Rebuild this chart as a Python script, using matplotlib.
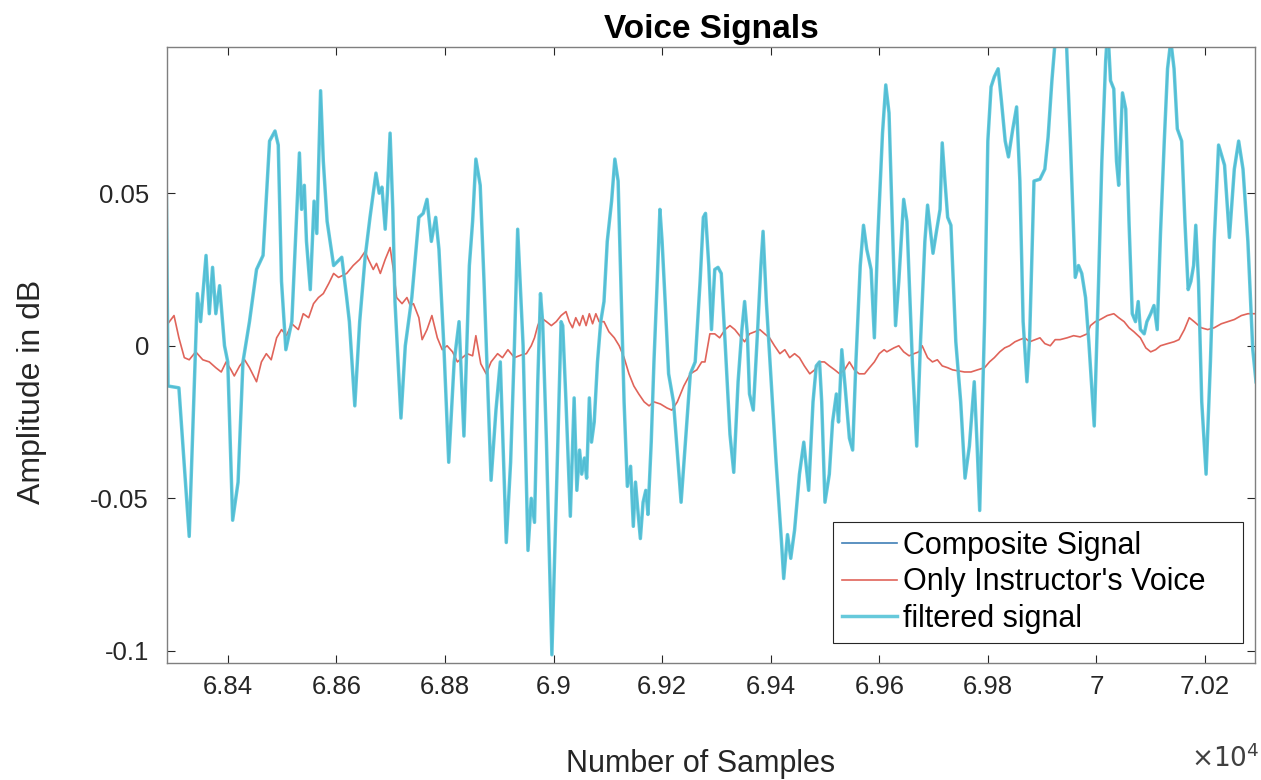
import matplotlib
matplotlib.use("Agg")
import matplotlib.pyplot as plt
from matplotlib.ticker import FuncFormatter

plt.rcParams["font.family"] = ["Liberation Sans", "DejaVu Sans"]
plt.rcParams["axes.unicode_minus"] = False

# filtered signal (composite lies right underneath it)
samples = [68287, 68290, 68310, 68329, 68344, 68350, 68360, 68366, 68372, 68378,
           68385, 68394, 68400, 68409, 68419, 68428, 68440, 68453, 68465, 68477,
           68487, 68493, 68499, 68507, 68518, 68532, 68536, 68541, 68545, 68552,
           68559, 68564, 68571, 68576, 68583, 68595, 68610, 68619, 68624, 68634,
           68643, 68653, 68662, 68673, 68679, 68684, 68690, 68694, 68699, 68704,
           68708, 68719, 68727, 68739, 68752, 68760, 68767, 68775, 68783, 68789,
           68798, 68807, 68817, 68826, 68835, 68845, 68851, 68857, 68865, 68872,
           68885, 68894, 68902, 68913, 68921, 68928, 68934, 68944, 68953, 68959,
           68965, 68971, 68976, 68980, 68987, 68997, 69008, 69014, 69017, 69023,
           69031, 69038, 69043, 69048, 69052, 69057, 69061, 69066, 69070, 69075,
           69081, 69087, 69093, 69099, 69107, 69113, 69119, 69124, 69130, 69136,
           69142, 69147, 69151, 69156, 69160, 69165, 69170, 69174, 69180, 69185,
           69191, 69196, 69200, 69206, 69212, 69221, 69235, 69243, 69252, 69261,
           69270, 69276, 69280, 69286, 69291, 69297, 69303, 69309, 69316, 69325,
           69332, 69340, 69347, 69352, 69357, 69361, 69368, 69376, 69382, 69386,
           69392, 69401, 69410, 69420, 69424, 69431, 69437, 69444, 69453, 69461,
           69470, 69478, 69484, 69490, 69494, 69500, 69508, 69514, 69521, 69525,
           69531, 69537, 69545, 69551, 69557, 69565, 69571, 69577, 69585, 69591,
           69597, 69606, 69612, 69618, 69624, 69630, 69636, 69645, 69651, 69661,
           69669, 69676, 69684, 69689, 69694, 69699, 69706, 69712, 69716, 69721,
           69726, 69732, 69741, 69750, 69758, 69766, 69775, 69780, 69785, 69794,
           69800, 69806, 69812, 69819, 69825, 69832, 69838, 69846, 69853, 69859,
           69865, 69872, 69877, 69885, 69896, 69905, 69911, 69918, 69924, 69942,
           69952, 69961, 69967, 69973, 69980, 69986, 69996, 70004, 70010, 70017,
           70021, 70026, 70032, 70037, 70041, 70048, 70054, 70060, 70066, 70072,
           70077, 70081, 70088, 70093, 70100, 70106, 70112, 70118, 70125, 70131,
           70137, 70143, 70149, 70157, 70163, 70169, 70174, 70179, 70183, 70188,
           70194, 70202, 70210, 70217, 70225, 70236, 70245, 70254, 70262, 70270,
           70279, 70288, 70294]
filtered = [0.0487, -0.0132, -0.0138, -0.0625, 0.0171, 0.0079, 0.0296, 0.0105, 0.0257, 0.0105,
            0.0197, 0.0, -0.0053, -0.0572, -0.0447, -0.0053, 0.0079, 0.025, 0.0296, 0.0671,
            0.0704, 0.0658, 0.0211, -0.0013, 0.0079, 0.0632, 0.0447, 0.0526, 0.0342, 0.0184,
            0.0474, 0.0368, 0.0836, 0.0605, 0.0408, 0.0263, 0.029, 0.0158, 0.0079, -0.0197,
            0.0079, 0.029, 0.0421, 0.0566, 0.05, 0.052, 0.0382, 0.05, 0.0697, 0.0447,
            0.0145, -0.0237, 0.0, 0.0158, 0.0421, 0.0434, 0.048, 0.0342, 0.0421, 0.0316,
            0.0, -0.0382, -0.0053, 0.0079, -0.0296, 0.0263, 0.0408, 0.0612, 0.0526, 0.0211,
            -0.0441, -0.0211, -0.0053, -0.0645, -0.0382, 0.0, 0.0382, 0.0, -0.0671, -0.05,
            -0.0579, -0.0118, 0.0171, 0.0079, -0.0316, -0.1013, -0.0316, 0.0079, 0.0066, -0.0184,
            -0.0559, -0.0171, -0.0474, -0.0342, -0.0421, -0.0368, -0.0434, -0.0171, -0.0316, -0.025,
            -0.0053, 0.0079, 0.0145, 0.0342, 0.0474, 0.0612, 0.054, 0.0211, -0.0184, -0.0461,
            -0.0395, -0.0592, -0.0447, -0.0553, -0.0632, -0.0513, -0.0474, -0.0553, -0.0316, -0.0053,
            0.0211, 0.0447, 0.0342, 0.0132, -0.0092, -0.0184, -0.0513, -0.0316, -0.0092, -0.0053,
            0.0211, 0.0421, 0.0434, 0.0263, 0.0053, 0.025, 0.0257, 0.0237, 0.0013, -0.029,
            -0.0415, -0.0118, 0.0053, 0.0145, 0.0039, -0.0158, -0.0211, 0.0053, 0.0263, 0.0375,
            0.0145, -0.0118, -0.0382, -0.0645, -0.0763, -0.0619, -0.0697, -0.0605, -0.0421, -0.0316,
            -0.0474, -0.0184, -0.0066, -0.0053, -0.0184, -0.0513, -0.0421, -0.025, -0.0158, -0.025,
            -0.0013, -0.0132, -0.0303, -0.0342, -0.0053, 0.0263, 0.0395, 0.0316, 0.025, 0.0026,
            0.0342, 0.0697, 0.0855, 0.0763, 0.0408, 0.0066, 0.0211, 0.048, 0.0408, -0.0053,
            -0.0329, 0.0013, 0.0342, 0.0461, 0.0382, 0.0303, 0.0382, 0.0447, 0.0665, 0.054,
            0.0421, 0.0395, 0.0013, -0.0184, -0.0434, -0.0329, -0.0118, -0.0316, -0.054, 0.0079,
            0.0671, 0.0849, 0.0882, 0.0908, 0.0803, 0.0671, 0.0619, 0.0711, 0.0783, 0.054,
            0.0079, -0.0118, 0.0026, 0.054, 0.0546, 0.0579, 0.0684, 0.0869, 0.1, 0.112,
            0.0671, 0.0224, 0.0263, 0.0237, 0.0158, 0.0013, -0.0263, 0.0211, 0.0605, 0.0934,
            0.104, 0.0869, 0.0842, 0.0605, 0.0526, 0.0829, 0.0776, 0.0408, 0.0105, 0.0079,
            0.0145, 0.0053, 0.0039, 0.0079, 0.0105, 0.0132, 0.0053, 0.0368, 0.0671, 0.0908,
            0.1, 0.0908, 0.0711, 0.0671, 0.0408, 0.0184, 0.0211, 0.0263, 0.0395, 0.0211,
            -0.0184, -0.0421, -0.0053, 0.0342, 0.0658, 0.0592, 0.0355, 0.0579, 0.0671, 0.0579,
            0.0342, -0.0013, -0.0118]
composite = filtered

# instructor's voice only
voice_samples = [68287, 68301, 68310, 68320, 68329, 68341, 68354, 68366, 68378, 68388,
                 68397, 68406, 68412, 68422, 68431, 68440, 68453, 68462, 68471, 68480,
                 68490, 68499, 68508, 68518, 68530, 68539, 68549, 68558, 68567, 68576,
                 68586, 68595, 68604, 68619, 68631, 68643, 68653, 68659, 68668, 68674,
                 68681, 68690, 68699, 68705, 68711, 68721, 68730, 68736, 68742, 68752,
                 68758, 68767, 68776, 68786, 68795, 68804, 68814, 68823, 68832, 68841,
                 68851, 68857, 68866, 68876, 68885, 68897, 68906, 68916, 68928, 68941,
                 68950, 68959, 68965, 68971, 68977, 68987, 68996, 69005, 69014, 69023,
                 69029, 69035, 69041, 69048, 69054, 69060, 69066, 69072, 69078, 69084,
                 69093, 69102, 69112, 69121, 69130, 69139, 69148, 69157, 69167, 69176,
                 69185, 69197, 69209, 69218, 69228, 69240, 69252, 69264, 69273, 69279,
                 69288, 69297, 69306, 69316, 69325, 69334, 69343, 69352, 69361, 69371,
                 69380, 69389, 69398, 69407, 69417, 69426, 69435, 69444, 69453, 69462,
                 69472, 69481, 69490, 69499, 69508, 69518, 69527, 69536, 69545, 69554,
                 69563, 69573, 69582, 69591, 69600, 69609, 69614, 69627, 69636, 69645,
                 69655, 69664, 69673, 69679, 69689, 69698, 69707, 69716, 69726, 69735,
                 69744, 69757, 69769, 69781, 69794, 69803, 69812, 69822, 69831, 69840,
                 69850, 69859, 69868, 69877, 69887, 69896, 69905, 69915, 69924, 69933,
                 69946, 69958, 69970, 69983, 69989, 69998, 70007, 70020, 70032, 70041,
                 70051, 70060, 70069, 70081, 70091, 70100, 70109, 70118, 70131, 70143,
                 70152, 70162, 70171, 70180, 70193, 70205, 70217, 70230, 70242, 70254,
                 70267, 70279, 70294]
voice = [0.0066, 0.0099, 0.0026, -0.0039, -0.0046, -0.002, -0.0046, -0.0053, -0.0072, -0.0086,
         -0.0053, -0.0079, -0.0099, -0.0066, -0.0046, -0.0072, -0.0118, -0.0053, -0.0026, -0.0046,
         0.0026, 0.0053, 0.0033, 0.0072, 0.0053, 0.0105, 0.0092, 0.0138, 0.0158, 0.0171,
         0.0204, 0.0237, 0.0224, 0.0237, 0.0263, 0.0283, 0.0309, 0.0283, 0.025, 0.027,
         0.0237, 0.0283, 0.0322, 0.025, 0.0158, 0.0138, 0.0158, 0.0132, 0.0138, 0.0092,
         0.002, 0.0053, 0.0099, 0.0026, -0.0013, 0.0, -0.002, -0.0053, -0.0039, -0.0026,
         -0.0033, 0.0033, -0.0059, -0.0092, -0.0053, -0.0026, -0.0039, -0.0013, -0.0039, -0.003,
         -0.0026, 0.0, 0.0026, 0.0066, 0.0092, 0.0079, 0.0066, 0.0079, 0.0099, 0.0112,
         0.0079, 0.0059, 0.0092, 0.0066, 0.0099, 0.0066, 0.0105, 0.0072, 0.0105, 0.0079,
         0.0079, 0.0046, 0.0026, 0.0, -0.0039, -0.0092, -0.0132, -0.0158, -0.0184, -0.0197,
         -0.0184, -0.0191, -0.0204, -0.0211, -0.0184, -0.0132, -0.0092, -0.0079, -0.0053, -0.0053,
         0.0039, 0.0039, 0.0026, 0.0053, 0.0066, 0.0053, 0.0033, 0.0013, 0.0039, 0.0046,
         0.0053, 0.0039, 0.0026, 0.0, -0.0026, -0.0013, -0.0039, -0.0026, -0.0039, -0.0066,
         -0.0092, -0.0079, -0.0053, -0.0053, -0.0066, -0.0079, -0.0092, -0.0079, -0.0053, -0.0079,
         -0.0092, -0.0092, -0.0072, -0.0053, -0.0026, -0.0013, -0.002, -0.0007, 0.0, -0.002,
         -0.0033, -0.0026, -0.002, 0.0, -0.0039, -0.0053, -0.0046, -0.0066, -0.0072, -0.0079,
         -0.0082, -0.0086, -0.0086, -0.0079, -0.0072, -0.0053, -0.0039, -0.002, -0.0007, 0.0,
         0.0013, 0.002, 0.0026, 0.0013, 0.002, 0.0026, 0.0007, 0.0, 0.002, 0.002,
         0.0026, 0.0033, 0.0029, 0.0039, 0.0066, 0.0079, 0.0086, 0.0099, 0.0105, 0.0092,
         0.0079, 0.0059, 0.0046, 0.0026, -0.0007, -0.002, -0.0013, 0.0, 0.0007, 0.0013,
         0.002, 0.0053, 0.0092, 0.0079, 0.0059, 0.0053, 0.0059, 0.0072, 0.0079, 0.0086,
         0.0099, 0.0105, 0.0105]

x_ticks = [68400, 68600, 68800, 69000, 69200, 69400, 69600, 69800, 70000, 70200]
y_ticks = [-0.1, -0.05, 0, 0.05]

fig = plt.figure(figsize=(12.61, 7.80), dpi=100)
ax = fig.add_axes([0.1324, 0.15, 0.8628, 0.79])

ax.plot(samples, composite, color="#3f7fb6", lw=1.2, label="Composite Signal")
ax.plot(voice_samples, voice, color="#e0645a", lw=1.2, label="Only Instructor's Voice")
ax.plot(samples, filtered, color="#55c4d8", lw=2.5, alpha=0.9, label="filtered signal")

ax.set_xlim(68288, 70292)
ax.set_ylim(-0.104, 0.098)
ax.set_xticks(x_ticks)
ax.set_yticks(y_ticks)
ax.xaxis.set_major_formatter(FuncFormatter(lambda v, _: f"{v / 1e4:g}"))
ax.yaxis.set_major_formatter(FuncFormatter(lambda v, _: f"{v:g}"))
ax.tick_params(direction="in", length=6, width=0.8, labelsize=18.5, colors="#262626",
               top=True, right=True)
ax.tick_params(axis="x", pad=9)
ax.tick_params(axis="y", pad=13)
for s in ax.spines.values():
    s.set_color("#7f7f7f")
    s.set_linewidth(1.0)

ax.set_title("Voice Signals", fontsize=24, fontweight="bold", pad=6)
ax.set_xlabel("Number of Samples", fontsize=22, color="#262626")
ax.set_ylabel("Amplitude in dB", fontsize=23, color="#262626")
ax.xaxis.set_label_coords(0.49, -0.14)
ax.yaxis.set_label_coords(-0.11, 0.44)
fig.text(0.972, 0.017, r"$\times10^{4}$", fontsize=19, color="#404040", ha="center")

leg = ax.legend(loc="lower left", bbox_to_anchor=(0.612, 0.032, 0.377, 0.19),
                mode="expand", borderaxespad=0,
                fontsize=22, fancybox=False, framealpha=1, edgecolor="#262626",
                handlelength=1.8, handletextpad=0.2, labelspacing=0.22, borderpad=0.3)
leg.get_frame().set_linewidth(0.8)

fig.savefig("out.png", dpi=100)
